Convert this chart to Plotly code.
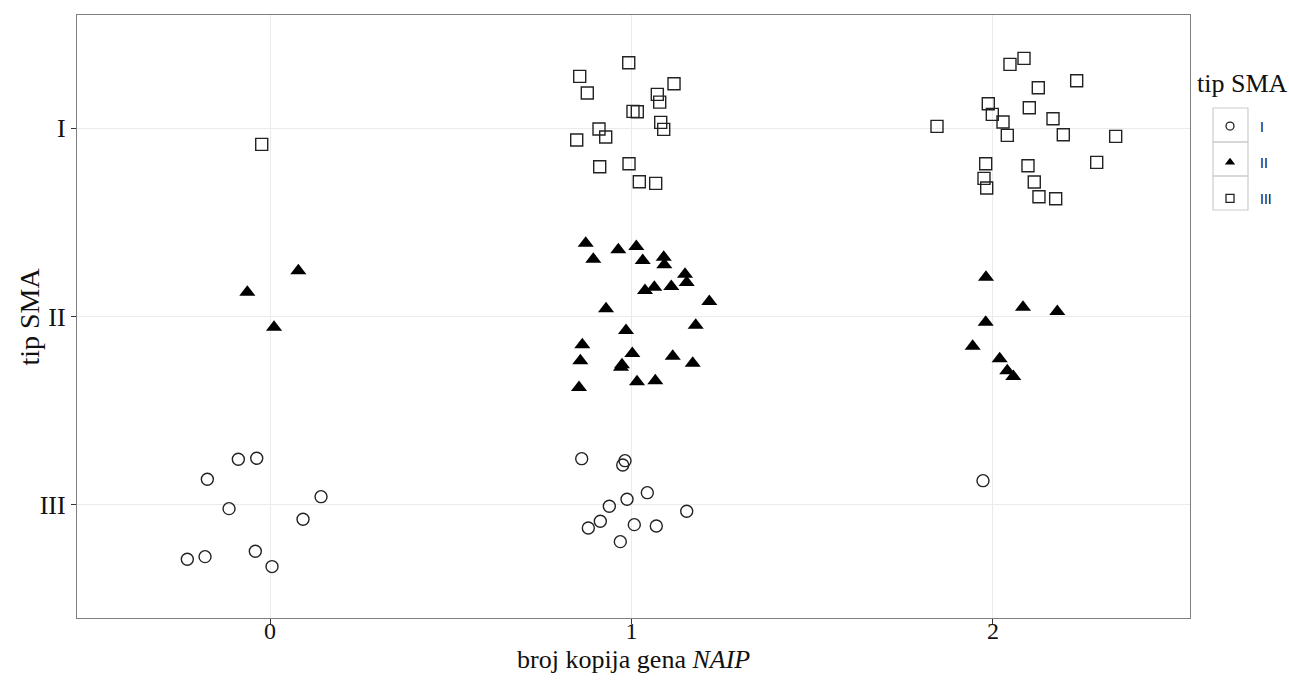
import plotly.graph_objects as go

# SMA type levels on the y axis (III bottom, I top)
y_levels = [1, 2, 3]
y_labels = ["III", "II", "I"]
x_ticks = [0, 1, 2]
x_labels = ["0", "1", "2"]
series_names = ["I", "II", "III"]
x_title = "broj kopija gena <i>NAIP</i>"
y_title = "tip SMA"
legend_title = "tip SMA"

# jittered observations: x = NAIP copy number, y = SMA type level
circ_x = [-0.0877, -0.0368, -0.1734, -0.1134, 0.1411, 0.0913, -0.2288, -0.1798, -0.0407, 0.0055,
          0.8622, 0.9820, 0.9757, 1.0437, 0.9876, 0.9386, 1.1527, 0.9137, 0.8805, 1.0077, 1.0686, 0.9690,
          1.9723]
circ_y = [1.2424, 1.2477, 1.1363, 0.9804, 1.0440, 0.9241, 0.7119, 0.7257, 0.7544, 0.6727,
          1.2456, 1.2350, 1.2122, 1.0652, 1.0302, 0.9931, 0.9666, 0.9135, 0.8780, 0.8955, 0.8886, 0.8053,
          1.1289]

tri_x = [0.0783, -0.0628, 0.0111,
         0.8733, 0.9635, 1.0133, 0.8943, 1.0310, 1.0891, 1.0907, 1.1480, 1.1527, 1.0631, 1.1101, 1.0373,
         1.2152, 0.9295, 1.1776, 0.9848, 0.8639, 1.0022, 1.1140, 0.8584, 0.9737, 0.9710, 1.1693, 1.0152,
         1.0658, 0.8548,
         1.9806, 2.0830, 2.1779, 1.9798, 1.9438, 2.0185, 2.0395, 2.0562]
tri_y = [2.2424, 2.1289, 1.9432,
         2.3889, 2.3538, 2.3714, 2.3040, 2.2971, 2.3146, 2.2743, 2.2244, 2.1804, 2.1554, 2.1592, 2.1379,
         2.0796, 2.0408, 1.9538, 1.9257, 1.8499, 1.8037, 1.7894, 1.7650, 1.7438, 1.7310, 1.7523, 1.6536,
         1.6589, 1.6233,
         2.2085, 2.0493, 2.0265, 1.9698, 1.8424, 1.7756, 1.7119, 1.6817]

sq_x = [-0.0230,
        0.9923, 0.8567, 1.1176, 0.8777, 1.0714, 1.0780, 1.0041, 1.0160, 1.0808, 1.0891, 0.9101, 0.9286,
        0.8484, 0.9931, 0.9120, 1.0216, 1.0669,
        2.0858, 2.0470, 2.2315, 2.1253, 1.9870, 2.1004, 1.9981, 2.1660, 2.0277, 1.8451, 2.0396, 2.1945,
        2.3394, 1.9798, 2.0968, 2.2869, 1.9751, 2.1142, 1.9826, 2.1272, 2.1734]
sq_y = [2.9135,
        3.3464, 3.2743, 3.2350, 3.1857, 3.1788, 3.1379, 3.0886, 3.0865, 3.0302, 2.9931, 2.9947, 2.9523,
        2.9363, 2.8106, 2.7947, 2.7151, 2.7066,
        3.3698, 3.3379, 3.2509, 3.2138, 3.1289, 3.1077, 3.0727, 3.0493, 3.0318, 3.0090, 2.9613, 2.9645,
        2.9560, 2.8106, 2.8000, 2.8180, 2.7332, 2.7135, 2.6817, 2.6355, 2.6249]

SERIF = "Liberation Serif"
SANS = "Liberation Sans Narrow, Liberation Sans"
INK = "#111111"

fig = go.Figure()

styles = [
    dict(symbol="circle-open", size=12, color="#222222", line=dict(width=1.4, color="#222222")),
    dict(symbol="triangle-up", size=14, color="#000000", line=dict(width=0)),
    dict(symbol="square-open", size=12, color="#222222", line=dict(width=1.4, color="#222222")),
]
data = [(circ_x, circ_y), (tri_x, tri_y), (sq_x, sq_y)]

for name, (xs, ys), st in zip(series_names, data, styles):
    fig.add_trace(go.Scatter(x=xs, y=ys, mode="markers", name=name, showlegend=False,
                             marker=st, hoverinfo="x+y"))

# legend entries with smaller key symbols
leg_styles = [
    dict(symbol="circle-open", size=8, color="#222222", line=dict(width=1.3, color="#222222")),
    dict(symbol="triangle-up", size=9, color="#000000", line=dict(width=0)),
    dict(symbol="square-open", size=8, color="#222222", line=dict(width=1.3, color="#222222")),
]
for name, st in zip(series_names, leg_styles):
    fig.add_trace(go.Scatter(x=[None], y=[None], mode="markers", name=name, legendgroup=name,
                             marker=st, showlegend=True))

# key boxes around legend symbols (theme_bw style)
box_x0, box_x1 = 1.0207, 1.0521
box_edges = [0.8458, 0.7894, 0.7330, 0.6766]
for i in range(3):
    fig.add_shape(type="rect", xref="paper", yref="paper", x0=box_x0, x1=box_x1,
                  y0=box_edges[i + 1], y1=box_edges[i], line=dict(color="#cccccc", width=1.2),
                  fillcolor="rgba(0,0,0,0)", layer="below")

fig.add_annotation(text=legend_title, xref="paper", yref="paper", x=1.0045, y=0.887,
                   xanchor="left", yanchor="middle", showarrow=False,
                   font=dict(family=SERIF, size=26, color=INK))
# axis titles
fig.add_annotation(text=x_title, xref="paper", yref="paper", x=0.5, y=-0.069,
                   xanchor="center", yanchor="middle", showarrow=False,
                   font=dict(family=SERIF, size=26, color=INK))
fig.add_annotation(text=y_title, xref="paper", yref="paper", x=-0.0431, y=0.5,
                   xanchor="center", yanchor="middle", showarrow=False, textangle=-90,
                   font=dict(family=SERIF, size=28, color=INK))

axis_common = dict(showgrid=True, gridcolor="#ebebeb", gridwidth=1, zeroline=False,
                   showline=True, mirror=True, linecolor="#7f7f7f", linewidth=1.3,
                   ticks="outside", ticklen=5, tickwidth=1, tickcolor="#333333")

fig.update_xaxes(range=[-0.534, 2.545], tickvals=x_ticks, ticktext=x_labels,
                 ticklabelstandoff=-14, tickfont=dict(family=SERIF, size=24, color=INK),
                 **axis_common)
fig.update_yaxes(range=[0.4, 3.6], tickvals=y_levels, ticktext=y_labels,
                 tickfont=dict(family=SERIF, size=26, color=INK), **axis_common)

fig.update_layout(
    width=1289, height=685,
    margin=dict(l=77, r=99, t=15, b=67, autoexpand=False),
    plot_bgcolor="white", paper_bgcolor="white",
    legend=dict(x=1.009, xanchor="left", y=0.8417, yanchor="top", tracegroupgap=15,
                itemwidth=50, font=dict(family=SANS, size=14, color=INK),
                bgcolor="rgba(0,0,0,0)", borderwidth=0),
    showlegend=True,
)

fig.write_html("out.html", config={"displayModeBar": False},
               post_script="document.body.style.margin='0';document.body.style.padding='0';")
